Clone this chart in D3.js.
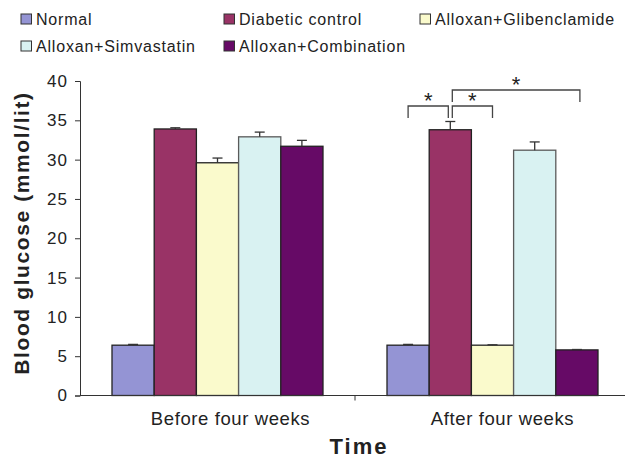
<!DOCTYPE html>
<html>
<head>
<meta charset="utf-8">
<script src="https://cdn.jsdelivr.net/npm/d3@7"></script>
<style>
  body { margin: 0; background: #fff; }
  text { font-family: "Liberation Sans", Arial, sans-serif; fill: #222; }
</style>
</head>
<body>
<div class="chart-container"></div>
<script>
const periods = ['Before four weeks', 'After four weeks'];
const groups = ['Normal', 'Diabetic control', 'Alloxan+Glibenclamide', 'Alloxan+Simvastatin', 'Alloxan+Combination'];
const colors = ['#9494d4', '#993366', '#fafacc', '#d9f2f2', '#660a66'];
const beforeValues = [6.4, 33.9, 29.6, 32.9, 31.7];
const beforeErrors = [0.1, 0.15, 0.6, 0.6, 0.75];
const afterValues = [6.4, 33.8, 6.4, 31.2, 5.8];
const afterErrors = [0.1, 1.05, 0.05, 1.05, 0.05];
const yTicks = [0, 5, 10, 15, 20, 25, 30, 35, 40];
// significance brackets in "After four weeks": [from group, to group, row]
const brackets = [[0, 1, 0], [1, 2, 0], [1, 4, 1]];

const width = 625, height = 458;
const margin = { top: 81, right: 0, bottom: 62, left: 80 };

const svg = d3.select('.chart-container')
  .append('svg')
  .attr('width', width)
  .attr('height', height);

const x0 = d3.scaleBand()
  .domain(periods)
  .range([margin.left, 630])
  .paddingInner(0)
  .paddingOuter(0);

const x1 = d3.scaleBand()
  .domain(groups)
  .range([32, x0.bandwidth() - 32]);

const y = d3.scaleLinear()
  .domain([0, 40])
  .range([height - margin.bottom - 0.5, margin.top]);

const rows = periods.map((p, i) => ({
  period: p,
  values: i === 0 ? beforeValues : afterValues,
  errors: i === 0 ? beforeErrors : afterErrors
}));

const groupG = svg.selectAll('.period')
  .data(rows)
  .enter().append('g')
  .attr('transform', d => `translate(${x0(d.period)},0)`);

groupG.selectAll('rect')
  .data(d => d.values.map((v, i) => ({ v, e: d.errors[i], i })))
  .enter().append('rect')
  .attr('x', d => x1(groups[d.i]))
  .attr('y', d => y(d.v))
  .attr('width', x1.bandwidth())
  .attr('height', d => y(0) - y(d.v))
  .attr('fill', d => colors[d.i])
  .attr('stroke', d => d.i === 3 ? '#5a5a5a' : '#222')
  .attr('stroke-width', 1.3);

// error bars (upper half)
const err = groupG.selectAll('.err')
  .data(d => d.values.map((v, i) => ({ v, e: d.errors[i], i })))
  .enter().append('g')
  .attr('stroke', '#333')
  .attr('stroke-width', 1.3);
err.append('line')
  .attr('x1', d => x1(groups[d.i]) + x1.bandwidth() / 2)
  .attr('x2', d => x1(groups[d.i]) + x1.bandwidth() / 2)
  .attr('y1', d => y(d.v))
  .attr('y2', d => y(d.v + d.e));
err.append('line')
  .attr('x1', d => x1(groups[d.i]) + x1.bandwidth() / 2 - 5)
  .attr('x2', d => x1(groups[d.i]) + x1.bandwidth() / 2 + 5)
  .attr('y1', d => y(d.v + d.e))
  .attr('y2', d => y(d.v + d.e));

// axes
const yAxis = svg.append('g')
  .attr('transform', `translate(${margin.left},0)`)
  .call(d3.axisLeft(y).tickValues(yTicks).tickSize(5).tickPadding(7));
yAxis.select('.domain').attr('stroke', '#333');
yAxis.selectAll('.tick line').attr('stroke', '#333');
yAxis.selectAll('text')
  .style('font-size', '17px')
  .style('letter-spacing', '1px')
  .attr('fill', '#222');

const xAxis = svg.append('g')
  .attr('transform', `translate(0,${y(0)})`);
xAxis.append('line')
  .attr('x1', margin.left).attr('x2', 630)
  .attr('stroke', '#333');
xAxis.append('line')
  .attr('x1', x0(periods[1])).attr('x2', x0(periods[1]))
  .attr('y1', 0).attr('y2', 5)
  .attr('stroke', '#333');
xAxis.selectAll('.lbl')
  .data(periods)
  .enter().append('text')
  .attr('x', (d, i) => x0(d) + x0.bandwidth() / 2 + (i === 0 ? 13 : 10))
  .attr('y', 29)
  .attr('text-anchor', 'middle')
  .style('font-size', '18.5px')
  .style('letter-spacing', '0.6px')
  .text(d => d);

svg.append('text')
  .attr('x', 359)
  .attr('y', 454)
  .attr('text-anchor', 'middle')
  .style('font-size', '22px')
  .style('font-weight', 'bold')
  .style('letter-spacing', '2px')
  .text('Time');

svg.append('text')
  .attr('transform', `translate(29,${233}) rotate(-90)`)
  .attr('text-anchor', 'middle')
  .style('font-size', '21px')
  .style('font-weight', 'bold')
  .style('letter-spacing', '1.6px')
  .text('Blood glucose (mmol/lit)');

// significance brackets
const cx = i => x0(periods[1]) + x1(groups[i]) + x1.bandwidth() / 2;
const rowY = [106, 90];
const sig = svg.append('g').attr('stroke', '#444').attr('stroke-width', 1.3).attr('fill', 'none');
brackets.forEach(([a, b, r]) => {
  const xa = cx(a) + (a === 1 ? 2 : 0);
  const xb = cx(b) + (b === 1 ? -2 : (b === 4 ? 3 : 0));
  const yy = rowY[r];
  sig.append('path')
    .attr('d', `M${xa},${yy + 12}V${yy}H${xb}V${yy + 12}`);
  svg.append('text')
    .attr('x', (xa + xb) / 2)
    .attr('y', yy + 2)
    .attr('text-anchor', 'middle')
    .style('font-size', '22px')
    .attr('fill', '#444')
    .text('*');
});

// legend
const legendPos = [[21, 14], [224, 14], [420, 14], [21, 41], [224, 41]];
const legend = svg.selectAll('.legend')
  .data(groups)
  .enter().append('g')
  .attr('transform', (d, i) => `translate(${legendPos[i][0]},${legendPos[i][1]})`);
legend.append('rect')
  .attr('width', 10.5)
  .attr('height', 10)
  .attr('fill', (d, i) => colors[i])
  .attr('stroke', '#333')
  .attr('stroke-width', 1);
legend.append('text')
  .attr('x', 15)
  .attr('y', 10.5)
  .style('font-size', '16px')
  .style('letter-spacing', '0.8px')
  .text(d => d);
</script>
</body>
</html>
